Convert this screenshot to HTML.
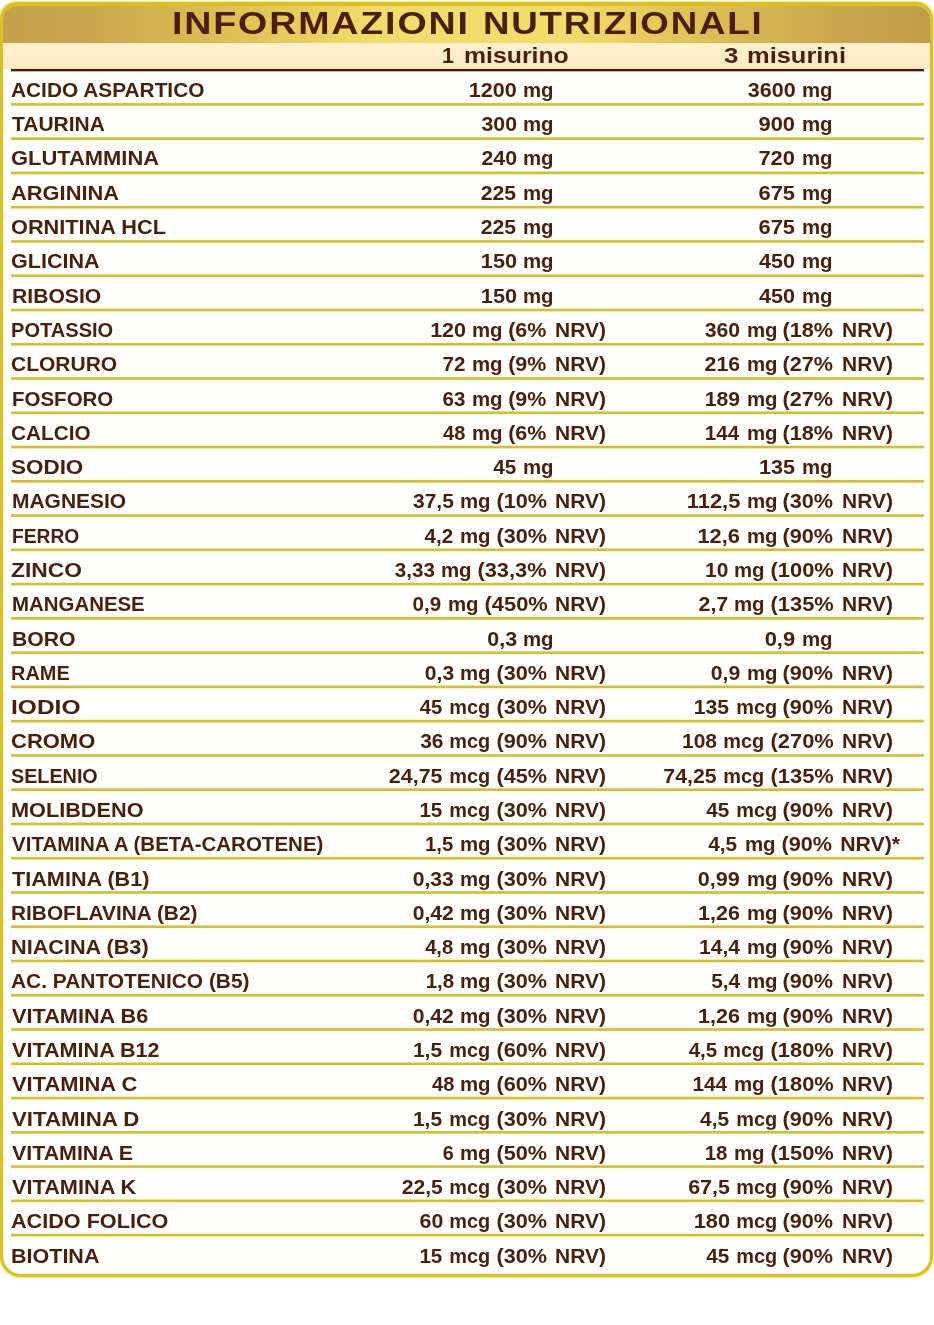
<!DOCTYPE html>
<html lang="it"><head><meta charset="utf-8"><title>Informazioni nutrizionali</title>
<style>
html,body{margin:0;padding:0;background:#fff;}
body{width:934px;height:1325px;position:relative;overflow:hidden;font-family:"Liberation Sans",sans-serif;font-weight:bold;color:#4a1f0c;}
.box{position:absolute;left:0px;top:2px;width:933px;height:1275px;box-sizing:border-box;border:3px solid #d9c02a;border-top-width:4px;box-shadow:0 0 1.5px 0.3px rgba(240,228,110,.9),inset 0 0 1.5px 0.3px rgba(240,228,110,.7);border-radius:17px 17px 21px 21px;background:#fffffe;overflow:hidden;}
.hd{position:absolute;left:0;top:0;width:100%;height:37px;background:linear-gradient(90deg,#c5a14a 0%,#c9a64c 9%,#e2c456 27%,#f2dc6c 40%,#f2dc6c 61%,#e2c456 73%,#caa74d 90%,#c29d47 100%);}
.sh{position:absolute;left:0;top:37px;width:100%;height:26px;background:linear-gradient(180deg,#fef0d0 0%,#fdedc8 45%,#fceac2 100%);}
.t{position:absolute;white-space:nowrap;line-height:1;}
.ttl{font-size:30.5px;}
.h{font-size:21.5px;}
.r{font-size:21px;}
.t span{display:inline-block;}





svg.lines{position:absolute;left:0;top:0;}
</style></head><body>
<div class="box"><div class="hd"></div><div class="sh"></div></div>

<div class="t ttl" style="top:7.70px;left:171.63px"><span style="letter-spacing:1.50px;transform-origin:0 50%;transform:scaleX(1.2322)">INFORMAZIONI</span></div>
<div class="t ttl" style="top:7.70px;left:482.77px"><span style="letter-spacing:1.50px;transform-origin:0 50%;transform:scaleX(1.2029)">NUTRIZIONALI</span></div>
<div class="t h" style="top:46.10px;left:441.88px"><span style="transform-origin:0 50%;transform:scaleX(1.0000)">1</span></div>
<div class="t h" style="top:46.10px;left:464.45px"><span style="transform-origin:0 50%;transform:scaleX(1.1534)">misurino</span></div>
<div class="t h" style="top:46.10px;left:724.45px"><span style="transform-origin:0 50%;transform:scaleX(1.2015)">3</span></div>
<div class="t h" style="top:46.10px;left:746.65px"><span style="transform-origin:0 50%;transform:scaleX(1.1837)">misurini</span></div>
<div class="t r" style="top:78.90px;left:11.10px"><span style="transform-origin:0 50%;transform:scaleX(0.9928)">ACIDO ASPARTICO</span></div>
<div class="t r" style="top:78.90px;right:417.19px"><span style="transform-origin:100% 50%;transform:scaleX(1.0268)">1200</span></div>
<div class="t r" style="top:78.90px;right:380.30px"><span style="transform-origin:100% 50%;transform:scaleX(0.9716)">mg</span></div>
<div class="t r" style="top:78.90px;right:138.64px"><span style="transform-origin:100% 50%;transform:scaleX(1.0247)">3600</span></div>
<div class="t r" style="top:78.90px;right:101.80px"><span style="transform-origin:100% 50%;transform:scaleX(0.9716)">mg</span></div>
<div class="t r" style="top:113.19px;left:11.65px"><span style="transform-origin:0 50%;transform:scaleX(0.9984)">TAURINA</span></div>
<div class="t r" style="top:113.19px;right:417.10px"><span style="transform-origin:100% 50%;transform:scaleX(1.0151)">300</span></div>
<div class="t r" style="top:113.19px;right:380.30px"><span style="transform-origin:100% 50%;transform:scaleX(0.9716)">mg</span></div>
<div class="t r" style="top:113.19px;right:138.60px"><span style="transform-origin:100% 50%;transform:scaleX(1.0422)">900</span></div>
<div class="t r" style="top:113.19px;right:101.80px"><span style="transform-origin:100% 50%;transform:scaleX(0.9716)">mg</span></div>
<div class="t r" style="top:147.48px;left:11.10px"><span style="transform-origin:0 50%;transform:scaleX(1.0435)">GLUTAMMINA</span></div>
<div class="t r" style="top:147.48px;right:417.10px"><span style="transform-origin:100% 50%;transform:scaleX(1.0149)">240</span></div>
<div class="t r" style="top:147.48px;right:380.30px"><span style="transform-origin:100% 50%;transform:scaleX(0.9716)">mg</span></div>
<div class="t r" style="top:147.48px;right:138.60px"><span style="transform-origin:100% 50%;transform:scaleX(1.0463)">720</span></div>
<div class="t r" style="top:147.48px;right:101.80px"><span style="transform-origin:100% 50%;transform:scaleX(0.9716)">mg</span></div>
<div class="t r" style="top:181.77px;left:11.35px"><span style="transform-origin:0 50%;transform:scaleX(1.0414)">ARGININA</span></div>
<div class="t r" style="top:181.77px;right:417.63px"><span style="transform-origin:100% 50%;transform:scaleX(1.0095)">225</span></div>
<div class="t r" style="top:181.77px;right:380.30px"><span style="transform-origin:100% 50%;transform:scaleX(0.9716)">mg</span></div>
<div class="t r" style="top:181.77px;right:138.58px"><span style="transform-origin:100% 50%;transform:scaleX(1.0431)">675</span></div>
<div class="t r" style="top:181.77px;right:101.80px"><span style="transform-origin:100% 50%;transform:scaleX(0.9716)">mg</span></div>
<div class="t r" style="top:216.06px;left:11.10px"><span style="transform-origin:0 50%;transform:scaleX(1.0349)">ORNITINA HCL</span></div>
<div class="t r" style="top:216.06px;right:417.63px"><span style="transform-origin:100% 50%;transform:scaleX(1.0095)">225</span></div>
<div class="t r" style="top:216.06px;right:380.30px"><span style="transform-origin:100% 50%;transform:scaleX(0.9716)">mg</span></div>
<div class="t r" style="top:216.06px;right:138.58px"><span style="transform-origin:100% 50%;transform:scaleX(1.0431)">675</span></div>
<div class="t r" style="top:216.06px;right:101.80px"><span style="transform-origin:100% 50%;transform:scaleX(0.9716)">mg</span></div>
<div class="t r" style="top:250.35px;left:11.10px"><span style="transform-origin:0 50%;transform:scaleX(1.0255)">GLICINA</span></div>
<div class="t r" style="top:250.35px;right:417.10px"><span style="transform-origin:100% 50%;transform:scaleX(1.0323)">150</span></div>
<div class="t r" style="top:250.35px;right:380.30px"><span style="transform-origin:100% 50%;transform:scaleX(0.9716)">mg</span></div>
<div class="t r" style="top:250.35px;right:138.60px"><span style="transform-origin:100% 50%;transform:scaleX(1.0296)">450</span></div>
<div class="t r" style="top:250.35px;right:101.80px"><span style="transform-origin:100% 50%;transform:scaleX(0.9716)">mg</span></div>
<div class="t r" style="top:284.64px;left:11.63px"><span style="transform-origin:0 50%;transform:scaleX(1.0063)">RIBOSIO</span></div>
<div class="t r" style="top:284.64px;right:417.10px"><span style="transform-origin:100% 50%;transform:scaleX(1.0323)">150</span></div>
<div class="t r" style="top:284.64px;right:380.30px"><span style="transform-origin:100% 50%;transform:scaleX(0.9716)">mg</span></div>
<div class="t r" style="top:284.64px;right:138.60px"><span style="transform-origin:100% 50%;transform:scaleX(1.0296)">450</span></div>
<div class="t r" style="top:284.64px;right:101.80px"><span style="transform-origin:100% 50%;transform:scaleX(0.9716)">mg</span></div>
<div class="t r" style="top:318.93px;left:11.34px"><span style="transform-origin:0 50%;transform:scaleX(0.9555)">POTASSIO</span></div>
<div class="t r" style="top:318.93px;right:468.10px"><span style="transform-origin:100% 50%;transform:scaleX(1.0245)">120</span></div>
<div class="t r" style="top:318.93px;right:431.30px"><span style="transform-origin:100% 50%;transform:scaleX(0.9716)">mg</span></div>
<div class="t r" style="top:318.93px;right:387.17px"><span style="transform-origin:100% 50%;transform:scaleX(1.0211)">(6%</span></div>
<div class="t r" style="top:318.93px;right:327.65px"><span style="transform-origin:100% 50%;transform:scaleX(0.9991)">NRV)</span></div>
<div class="t r" style="top:318.93px;right:193.80px"><span style="transform-origin:100% 50%;transform:scaleX(1.0081)">360</span></div>
<div class="t r" style="top:318.93px;right:157.00px"><span style="transform-origin:100% 50%;transform:scaleX(0.9716)">mg</span></div>
<div class="t r" style="top:318.93px;right:100.55px"><span style="transform-origin:100% 50%;transform:scaleX(1.0312)">(18%</span></div>
<div class="t r" style="top:318.93px;right:41.55px"><span style="transform-origin:100% 50%;transform:scaleX(0.9993)">NRV)</span></div>
<div class="t r" style="top:353.22px;left:11.10px"><span style="transform-origin:0 50%;transform:scaleX(1.0003)">CLORURO</span></div>
<div class="t r" style="top:353.22px;right:468.31px"><span style="transform-origin:100% 50%;transform:scaleX(0.9792)">72</span></div>
<div class="t r" style="top:353.22px;right:431.30px"><span style="transform-origin:100% 50%;transform:scaleX(0.9716)">mg</span></div>
<div class="t r" style="top:353.22px;right:387.17px"><span style="transform-origin:100% 50%;transform:scaleX(1.0211)">(9%</span></div>
<div class="t r" style="top:353.22px;right:327.65px"><span style="transform-origin:100% 50%;transform:scaleX(0.9991)">NRV)</span></div>
<div class="t r" style="top:353.22px;right:193.80px"><span style="transform-origin:100% 50%;transform:scaleX(1.0113)">216</span></div>
<div class="t r" style="top:353.22px;right:157.00px"><span style="transform-origin:100% 50%;transform:scaleX(0.9716)">mg</span></div>
<div class="t r" style="top:353.22px;right:100.55px"><span style="transform-origin:100% 50%;transform:scaleX(1.0312)">(27%</span></div>
<div class="t r" style="top:353.22px;right:41.55px"><span style="transform-origin:100% 50%;transform:scaleX(0.9993)">NRV)</span></div>
<div class="t r" style="top:387.51px;left:11.61px"><span style="transform-origin:0 50%;transform:scaleX(0.9757)">FOSFORO</span></div>
<div class="t r" style="top:387.51px;right:468.44px"><span style="transform-origin:100% 50%;transform:scaleX(0.9799)">63</span></div>
<div class="t r" style="top:387.51px;right:431.30px"><span style="transform-origin:100% 50%;transform:scaleX(0.9716)">mg</span></div>
<div class="t r" style="top:387.51px;right:387.17px"><span style="transform-origin:100% 50%;transform:scaleX(1.0211)">(9%</span></div>
<div class="t r" style="top:387.51px;right:327.65px"><span style="transform-origin:100% 50%;transform:scaleX(0.9991)">NRV)</span></div>
<div class="t r" style="top:387.51px;right:193.80px"><span style="transform-origin:100% 50%;transform:scaleX(1.0056)">189</span></div>
<div class="t r" style="top:387.51px;right:157.00px"><span style="transform-origin:100% 50%;transform:scaleX(0.9716)">mg</span></div>
<div class="t r" style="top:387.51px;right:100.55px"><span style="transform-origin:100% 50%;transform:scaleX(1.0312)">(27%</span></div>
<div class="t r" style="top:387.51px;right:41.55px"><span style="transform-origin:100% 50%;transform:scaleX(0.9993)">NRV)</span></div>
<div class="t r" style="top:421.80px;left:11.10px"><span style="transform-origin:0 50%;transform:scaleX(0.9881)">CALCIO</span></div>
<div class="t r" style="top:421.80px;right:468.52px"><span style="transform-origin:100% 50%;transform:scaleX(0.9537)">48</span></div>
<div class="t r" style="top:421.80px;right:431.30px"><span style="transform-origin:100% 50%;transform:scaleX(0.9716)">mg</span></div>
<div class="t r" style="top:421.80px;right:387.17px"><span style="transform-origin:100% 50%;transform:scaleX(1.0211)">(6%</span></div>
<div class="t r" style="top:421.80px;right:327.65px"><span style="transform-origin:100% 50%;transform:scaleX(0.9991)">NRV)</span></div>
<div class="t r" style="top:421.80px;right:194.76px"><span style="transform-origin:100% 50%;transform:scaleX(0.9761)">144</span></div>
<div class="t r" style="top:421.80px;right:157.00px"><span style="transform-origin:100% 50%;transform:scaleX(0.9716)">mg</span></div>
<div class="t r" style="top:421.80px;right:100.55px"><span style="transform-origin:100% 50%;transform:scaleX(1.0312)">(18%</span></div>
<div class="t r" style="top:421.80px;right:41.55px"><span style="transform-origin:100% 50%;transform:scaleX(0.9993)">NRV)</span></div>
<div class="t r" style="top:456.09px;left:11.40px"><span style="transform-origin:0 50%;transform:scaleX(1.0688)">SODIO</span></div>
<div class="t r" style="top:456.09px;right:417.22px"><span style="transform-origin:100% 50%;transform:scaleX(0.9872)">45</span></div>
<div class="t r" style="top:456.09px;right:380.30px"><span style="transform-origin:100% 50%;transform:scaleX(0.9716)">mg</span></div>
<div class="t r" style="top:456.09px;right:138.64px"><span style="transform-origin:100% 50%;transform:scaleX(1.0292)">135</span></div>
<div class="t r" style="top:456.09px;right:101.80px"><span style="transform-origin:100% 50%;transform:scaleX(0.9716)">mg</span></div>
<div class="t r" style="top:490.38px;left:11.64px"><span style="transform-origin:0 50%;transform:scaleX(0.9986)">MAGNESIO</span></div>
<div class="t r" style="top:490.38px;right:480.20px"><span style="transform-origin:100% 50%;transform:scaleX(0.9996)">37,5</span></div>
<div class="t r" style="top:490.38px;right:443.40px"><span style="transform-origin:100% 50%;transform:scaleX(0.9716)">mg</span></div>
<div class="t r" style="top:490.38px;right:386.65px"><span style="transform-origin:100% 50%;transform:scaleX(1.0312)">(10%</span></div>
<div class="t r" style="top:490.38px;right:327.65px"><span style="transform-origin:100% 50%;transform:scaleX(0.9991)">NRV)</span></div>
<div class="t r" style="top:490.38px;right:194.02px"><span style="transform-origin:100% 50%;transform:scaleX(1.0446)">112,5</span></div>
<div class="t r" style="top:490.38px;right:157.00px"><span style="transform-origin:100% 50%;transform:scaleX(0.9716)">mg</span></div>
<div class="t r" style="top:490.38px;right:100.55px"><span style="transform-origin:100% 50%;transform:scaleX(1.0312)">(30%</span></div>
<div class="t r" style="top:490.38px;right:41.55px"><span style="transform-origin:100% 50%;transform:scaleX(0.9993)">NRV)</span></div>
<div class="t r" style="top:524.67px;left:11.58px"><span style="transform-origin:0 50%;transform:scaleX(0.9161)">FERRO</span></div>
<div class="t r" style="top:524.67px;right:480.42px"><span style="transform-origin:100% 50%;transform:scaleX(0.9795)">4,2</span></div>
<div class="t r" style="top:524.67px;right:443.40px"><span style="transform-origin:100% 50%;transform:scaleX(0.9716)">mg</span></div>
<div class="t r" style="top:524.67px;right:386.65px"><span style="transform-origin:100% 50%;transform:scaleX(1.0312)">(30%</span></div>
<div class="t r" style="top:524.67px;right:327.65px"><span style="transform-origin:100% 50%;transform:scaleX(0.9991)">NRV)</span></div>
<div class="t r" style="top:524.67px;right:193.80px"><span style="transform-origin:100% 50%;transform:scaleX(1.0397)">12,6</span></div>
<div class="t r" style="top:524.67px;right:157.00px"><span style="transform-origin:100% 50%;transform:scaleX(0.9716)">mg</span></div>
<div class="t r" style="top:524.67px;right:100.55px"><span style="transform-origin:100% 50%;transform:scaleX(1.0312)">(90%</span></div>
<div class="t r" style="top:524.67px;right:41.55px"><span style="transform-origin:100% 50%;transform:scaleX(0.9993)">NRV)</span></div>
<div class="t r" style="top:558.96px;left:11.40px"><span style="transform-origin:0 50%;transform:scaleX(1.0850)">ZINCO</span></div>
<div class="t r" style="top:558.96px;right:499.00px"><span style="transform-origin:100% 50%;transform:scaleX(0.9804)">3,33</span></div>
<div class="t r" style="top:558.96px;right:462.20px"><span style="transform-origin:100% 50%;transform:scaleX(0.9716)">mg</span></div>
<div class="t r" style="top:558.96px;right:387.15px"><span style="transform-origin:100% 50%;transform:scaleX(1.0393)">(33,3%</span></div>
<div class="t r" style="top:558.96px;right:327.65px"><span style="transform-origin:100% 50%;transform:scaleX(0.9991)">NRV)</span></div>
<div class="t r" style="top:558.96px;right:205.71px"><span style="transform-origin:100% 50%;transform:scaleX(0.9947)">10</span></div>
<div class="t r" style="top:558.96px;right:169.40px"><span style="transform-origin:100% 50%;transform:scaleX(0.9716)">mg</span></div>
<div class="t r" style="top:558.96px;right:100.55px"><span style="transform-origin:100% 50%;transform:scaleX(1.0399)">(100%</span></div>
<div class="t r" style="top:558.96px;right:41.55px"><span style="transform-origin:100% 50%;transform:scaleX(0.9993)">NRV)</span></div>
<div class="t r" style="top:593.25px;left:11.62px"><span style="transform-origin:0 50%;transform:scaleX(0.9724)">MANGANESE</span></div>
<div class="t r" style="top:593.25px;right:492.57px"><span style="transform-origin:100% 50%;transform:scaleX(0.9790)">0,9</span></div>
<div class="t r" style="top:593.25px;right:455.80px"><span style="transform-origin:100% 50%;transform:scaleX(0.9716)">mg</span></div>
<div class="t r" style="top:593.25px;right:386.65px"><span style="transform-origin:100% 50%;transform:scaleX(1.0399)">(450%</span></div>
<div class="t r" style="top:593.25px;right:327.65px"><span style="transform-origin:100% 50%;transform:scaleX(0.9991)">NRV)</span></div>
<div class="t r" style="top:593.25px;right:206.12px"><span style="transform-origin:100% 50%;transform:scaleX(1.0141)">2,7</span></div>
<div class="t r" style="top:593.25px;right:169.40px"><span style="transform-origin:100% 50%;transform:scaleX(0.9716)">mg</span></div>
<div class="t r" style="top:593.25px;right:100.55px"><span style="transform-origin:100% 50%;transform:scaleX(1.0399)">(135%</span></div>
<div class="t r" style="top:593.25px;right:41.55px"><span style="transform-origin:100% 50%;transform:scaleX(0.9993)">NRV)</span></div>
<div class="t r" style="top:627.54px;left:11.58px"><span style="transform-origin:0 50%;transform:scaleX(1.0097)">BORO</span></div>
<div class="t r" style="top:627.54px;right:417.31px"><span style="transform-origin:100% 50%;transform:scaleX(1.0222)">0,3</span></div>
<div class="t r" style="top:627.54px;right:380.30px"><span style="transform-origin:100% 50%;transform:scaleX(0.9716)">mg</span></div>
<div class="t r" style="top:627.54px;right:138.75px"><span style="transform-origin:100% 50%;transform:scaleX(1.0469)">0,9</span></div>
<div class="t r" style="top:627.54px;right:101.80px"><span style="transform-origin:100% 50%;transform:scaleX(0.9716)">mg</span></div>
<div class="t r" style="top:661.83px;left:11.28px"><span style="transform-origin:0 50%;transform:scaleX(0.9488)">RAME</span></div>
<div class="t r" style="top:661.83px;right:480.08px"><span style="transform-origin:100% 50%;transform:scaleX(1.0071)">0,3</span></div>
<div class="t r" style="top:661.83px;right:443.40px"><span style="transform-origin:100% 50%;transform:scaleX(0.9716)">mg</span></div>
<div class="t r" style="top:661.83px;right:386.65px"><span style="transform-origin:100% 50%;transform:scaleX(1.0312)">(30%</span></div>
<div class="t r" style="top:661.83px;right:327.65px"><span style="transform-origin:100% 50%;transform:scaleX(0.9991)">NRV)</span></div>
<div class="t r" style="top:661.83px;right:194.28px"><span style="transform-origin:100% 50%;transform:scaleX(1.0112)">0,9</span></div>
<div class="t r" style="top:661.83px;right:157.00px"><span style="transform-origin:100% 50%;transform:scaleX(0.9716)">mg</span></div>
<div class="t r" style="top:661.83px;right:100.55px"><span style="transform-origin:100% 50%;transform:scaleX(1.0312)">(90%</span></div>
<div class="t r" style="top:661.83px;right:41.55px"><span style="transform-origin:100% 50%;transform:scaleX(0.9993)">NRV)</span></div>
<div class="t r" style="top:696.12px;left:10.65px"><span style="transform-origin:0 50%;transform:scaleX(1.1681)">IODIO</span></div>
<div class="t r" style="top:696.12px;right:491.35px"><span style="transform-origin:100% 50%;transform:scaleX(0.9636)">45</span></div>
<div class="t r" style="top:696.12px;right:443.48px"><span style="transform-origin:100% 50%;transform:scaleX(0.9495)">mcg</span></div>
<div class="t r" style="top:696.12px;right:386.65px"><span style="transform-origin:100% 50%;transform:scaleX(1.0312)">(30%</span></div>
<div class="t r" style="top:696.12px;right:327.65px"><span style="transform-origin:100% 50%;transform:scaleX(0.9991)">NRV)</span></div>
<div class="t r" style="top:696.12px;right:204.86px"><span style="transform-origin:100% 50%;transform:scaleX(1.0098)">135</span></div>
<div class="t r" style="top:696.12px;right:157.08px"><span style="transform-origin:100% 50%;transform:scaleX(0.9495)">mcg</span></div>
<div class="t r" style="top:696.12px;right:100.55px"><span style="transform-origin:100% 50%;transform:scaleX(1.0312)">(90%</span></div>
<div class="t r" style="top:696.12px;right:41.55px"><span style="transform-origin:100% 50%;transform:scaleX(0.9993)">NRV)</span></div>
<div class="t r" style="top:730.41px;left:11.10px"><span style="transform-origin:0 50%;transform:scaleX(1.0468)">CROMO</span></div>
<div class="t r" style="top:730.41px;right:491.08px"><span style="transform-origin:100% 50%;transform:scaleX(0.9941)">36</span></div>
<div class="t r" style="top:730.41px;right:443.48px"><span style="transform-origin:100% 50%;transform:scaleX(0.9495)">mcg</span></div>
<div class="t r" style="top:730.41px;right:386.65px"><span style="transform-origin:100% 50%;transform:scaleX(1.0312)">(90%</span></div>
<div class="t r" style="top:730.41px;right:327.65px"><span style="transform-origin:100% 50%;transform:scaleX(0.9991)">NRV)</span></div>
<div class="t r" style="top:730.41px;right:216.51px"><span style="transform-origin:100% 50%;transform:scaleX(1.0001)">108</span></div>
<div class="t r" style="top:730.41px;right:169.48px"><span style="transform-origin:100% 50%;transform:scaleX(0.9495)">mcg</span></div>
<div class="t r" style="top:730.41px;right:100.55px"><span style="transform-origin:100% 50%;transform:scaleX(1.0399)">(270%</span></div>
<div class="t r" style="top:730.41px;right:41.55px"><span style="transform-origin:100% 50%;transform:scaleX(0.9993)">NRV)</span></div>
<div class="t r" style="top:764.70px;left:11.10px"><span style="transform-origin:0 50%;transform:scaleX(0.9409)">SELENIO</span></div>
<div class="t r" style="top:764.70px;right:491.14px"><span style="transform-origin:100% 50%;transform:scaleX(1.0217)">24,75</span></div>
<div class="t r" style="top:764.70px;right:443.48px"><span style="transform-origin:100% 50%;transform:scaleX(0.9495)">mcg</span></div>
<div class="t r" style="top:764.70px;right:386.65px"><span style="transform-origin:100% 50%;transform:scaleX(1.0312)">(45%</span></div>
<div class="t r" style="top:764.70px;right:327.65px"><span style="transform-origin:100% 50%;transform:scaleX(0.9991)">NRV)</span></div>
<div class="t r" style="top:764.70px;right:217.24px"><span style="transform-origin:100% 50%;transform:scaleX(1.0125)">74,25</span></div>
<div class="t r" style="top:764.70px;right:169.48px"><span style="transform-origin:100% 50%;transform:scaleX(0.9495)">mcg</span></div>
<div class="t r" style="top:764.70px;right:100.55px"><span style="transform-origin:100% 50%;transform:scaleX(1.0399)">(135%</span></div>
<div class="t r" style="top:764.70px;right:41.55px"><span style="transform-origin:100% 50%;transform:scaleX(0.9993)">NRV)</span></div>
<div class="t r" style="top:798.99px;left:11.25px"><span style="transform-origin:0 50%;transform:scaleX(1.0328)">MOLIBDENO</span></div>
<div class="t r" style="top:798.99px;right:491.43px"><span style="transform-origin:100% 50%;transform:scaleX(0.9833)">15</span></div>
<div class="t r" style="top:798.99px;right:443.48px"><span style="transform-origin:100% 50%;transform:scaleX(0.9495)">mcg</span></div>
<div class="t r" style="top:798.99px;right:386.65px"><span style="transform-origin:100% 50%;transform:scaleX(1.0312)">(30%</span></div>
<div class="t r" style="top:798.99px;right:327.65px"><span style="transform-origin:100% 50%;transform:scaleX(0.9991)">NRV)</span></div>
<div class="t r" style="top:798.99px;right:204.95px"><span style="transform-origin:100% 50%;transform:scaleX(0.9885)">45</span></div>
<div class="t r" style="top:798.99px;right:157.08px"><span style="transform-origin:100% 50%;transform:scaleX(0.9495)">mcg</span></div>
<div class="t r" style="top:798.99px;right:100.55px"><span style="transform-origin:100% 50%;transform:scaleX(1.0312)">(90%</span></div>
<div class="t r" style="top:798.99px;right:41.55px"><span style="transform-origin:100% 50%;transform:scaleX(0.9993)">NRV)</span></div>
<div class="t r" style="top:833.28px;left:11.89px"><span style="transform-origin:0 50%;transform:scaleX(0.9766)">VITAMINA A (BETA-CAROTENE)</span></div>
<div class="t r" style="top:833.28px;right:480.59px"><span style="transform-origin:100% 50%;transform:scaleX(0.9685)">1,5</span></div>
<div class="t r" style="top:833.28px;right:443.40px"><span style="transform-origin:100% 50%;transform:scaleX(0.9716)">mg</span></div>
<div class="t r" style="top:833.28px;right:386.65px"><span style="transform-origin:100% 50%;transform:scaleX(1.0312)">(30%</span></div>
<div class="t r" style="top:833.28px;right:327.65px"><span style="transform-origin:100% 50%;transform:scaleX(0.9991)">NRV)</span></div>
<div class="t r" style="top:833.28px;right:196.43px"><span style="transform-origin:100% 50%;transform:scaleX(0.9917)">4,5</span></div>
<div class="t r" style="top:833.28px;right:158.90px"><span style="transform-origin:100% 50%;transform:scaleX(0.9716)">mg</span></div>
<div class="t r" style="top:833.28px;right:102.05px"><span style="transform-origin:100% 50%;transform:scaleX(1.0312)">(90%</span></div>
<div class="t r" style="top:833.28px;right:34.13px"><span style="transform-origin:100% 50%;transform:scaleX(1.0133)">NRV)*</span></div>
<div class="t r" style="top:867.57px;left:11.54px"><span style="transform-origin:0 50%;transform:scaleX(1.0309)">TIAMINA (B1)</span></div>
<div class="t r" style="top:867.57px;right:480.20px"><span style="transform-origin:100% 50%;transform:scaleX(1.0069)">0,33</span></div>
<div class="t r" style="top:867.57px;right:443.40px"><span style="transform-origin:100% 50%;transform:scaleX(0.9716)">mg</span></div>
<div class="t r" style="top:867.57px;right:386.65px"><span style="transform-origin:100% 50%;transform:scaleX(1.0312)">(30%</span></div>
<div class="t r" style="top:867.57px;right:327.65px"><span style="transform-origin:100% 50%;transform:scaleX(0.9991)">NRV)</span></div>
<div class="t r" style="top:867.57px;right:193.80px"><span style="transform-origin:100% 50%;transform:scaleX(1.0296)">0,99</span></div>
<div class="t r" style="top:867.57px;right:157.00px"><span style="transform-origin:100% 50%;transform:scaleX(0.9716)">mg</span></div>
<div class="t r" style="top:867.57px;right:100.55px"><span style="transform-origin:100% 50%;transform:scaleX(1.0312)">(90%</span></div>
<div class="t r" style="top:867.57px;right:41.55px"><span style="transform-origin:100% 50%;transform:scaleX(0.9993)">NRV)</span></div>
<div class="t r" style="top:901.86px;left:11.30px"><span style="transform-origin:0 50%;transform:scaleX(0.9925)">RIBOFLAVINA (B2)</span></div>
<div class="t r" style="top:901.86px;right:480.20px"><span style="transform-origin:100% 50%;transform:scaleX(1.0069)">0,42</span></div>
<div class="t r" style="top:901.86px;right:443.40px"><span style="transform-origin:100% 50%;transform:scaleX(0.9716)">mg</span></div>
<div class="t r" style="top:901.86px;right:386.65px"><span style="transform-origin:100% 50%;transform:scaleX(1.0312)">(30%</span></div>
<div class="t r" style="top:901.86px;right:327.65px"><span style="transform-origin:100% 50%;transform:scaleX(0.9991)">NRV)</span></div>
<div class="t r" style="top:901.86px;right:193.80px"><span style="transform-origin:100% 50%;transform:scaleX(1.0229)">1,26</span></div>
<div class="t r" style="top:901.86px;right:157.00px"><span style="transform-origin:100% 50%;transform:scaleX(0.9716)">mg</span></div>
<div class="t r" style="top:901.86px;right:100.55px"><span style="transform-origin:100% 50%;transform:scaleX(1.0312)">(90%</span></div>
<div class="t r" style="top:901.86px;right:41.55px"><span style="transform-origin:100% 50%;transform:scaleX(0.9993)">NRV)</span></div>
<div class="t r" style="top:936.15px;left:11.25px"><span style="transform-origin:0 50%;transform:scaleX(1.0316)">NIACINA (B3)</span></div>
<div class="t r" style="top:936.15px;right:480.32px"><span style="transform-origin:100% 50%;transform:scaleX(0.9613)">4,8</span></div>
<div class="t r" style="top:936.15px;right:443.40px"><span style="transform-origin:100% 50%;transform:scaleX(0.9716)">mg</span></div>
<div class="t r" style="top:936.15px;right:386.65px"><span style="transform-origin:100% 50%;transform:scaleX(1.0312)">(30%</span></div>
<div class="t r" style="top:936.15px;right:327.65px"><span style="transform-origin:100% 50%;transform:scaleX(0.9991)">NRV)</span></div>
<div class="t r" style="top:936.15px;right:194.56px"><span style="transform-origin:100% 50%;transform:scaleX(0.9976)">14,4</span></div>
<div class="t r" style="top:936.15px;right:157.00px"><span style="transform-origin:100% 50%;transform:scaleX(0.9716)">mg</span></div>
<div class="t r" style="top:936.15px;right:100.55px"><span style="transform-origin:100% 50%;transform:scaleX(1.0312)">(90%</span></div>
<div class="t r" style="top:936.15px;right:41.55px"><span style="transform-origin:100% 50%;transform:scaleX(0.9993)">NRV)</span></div>
<div class="t r" style="top:970.44px;left:11.10px"><span style="transform-origin:0 50%;transform:scaleX(0.9958)">AC. PANTOTENICO (B5)</span></div>
<div class="t r" style="top:970.44px;right:480.30px"><span style="transform-origin:100% 50%;transform:scaleX(0.9773)">1,8</span></div>
<div class="t r" style="top:970.44px;right:443.40px"><span style="transform-origin:100% 50%;transform:scaleX(0.9716)">mg</span></div>
<div class="t r" style="top:970.44px;right:386.65px"><span style="transform-origin:100% 50%;transform:scaleX(1.0312)">(30%</span></div>
<div class="t r" style="top:970.44px;right:327.65px"><span style="transform-origin:100% 50%;transform:scaleX(0.9991)">NRV)</span></div>
<div class="t r" style="top:970.44px;right:194.30px"><span style="transform-origin:100% 50%;transform:scaleX(0.9951)">5,4</span></div>
<div class="t r" style="top:970.44px;right:157.00px"><span style="transform-origin:100% 50%;transform:scaleX(0.9716)">mg</span></div>
<div class="t r" style="top:970.44px;right:100.55px"><span style="transform-origin:100% 50%;transform:scaleX(1.0312)">(90%</span></div>
<div class="t r" style="top:970.44px;right:41.55px"><span style="transform-origin:100% 50%;transform:scaleX(0.9993)">NRV)</span></div>
<div class="t r" style="top:1004.73px;left:11.63px"><span style="transform-origin:0 50%;transform:scaleX(1.0332)">VITAMINA B6</span></div>
<div class="t r" style="top:1004.73px;right:480.20px"><span style="transform-origin:100% 50%;transform:scaleX(1.0069)">0,42</span></div>
<div class="t r" style="top:1004.73px;right:443.40px"><span style="transform-origin:100% 50%;transform:scaleX(0.9716)">mg</span></div>
<div class="t r" style="top:1004.73px;right:386.65px"><span style="transform-origin:100% 50%;transform:scaleX(1.0312)">(30%</span></div>
<div class="t r" style="top:1004.73px;right:327.65px"><span style="transform-origin:100% 50%;transform:scaleX(0.9991)">NRV)</span></div>
<div class="t r" style="top:1004.73px;right:193.80px"><span style="transform-origin:100% 50%;transform:scaleX(1.0229)">1,26</span></div>
<div class="t r" style="top:1004.73px;right:157.00px"><span style="transform-origin:100% 50%;transform:scaleX(0.9716)">mg</span></div>
<div class="t r" style="top:1004.73px;right:100.55px"><span style="transform-origin:100% 50%;transform:scaleX(1.0312)">(90%</span></div>
<div class="t r" style="top:1004.73px;right:41.55px"><span style="transform-origin:100% 50%;transform:scaleX(0.9993)">NRV)</span></div>
<div class="t r" style="top:1039.02px;left:11.67px"><span style="transform-origin:0 50%;transform:scaleX(1.0278)">VITAMINA B12</span></div>
<div class="t r" style="top:1039.02px;right:491.43px"><span style="transform-origin:100% 50%;transform:scaleX(1.0031)">1,5</span></div>
<div class="t r" style="top:1039.02px;right:443.48px"><span style="transform-origin:100% 50%;transform:scaleX(0.9495)">mcg</span></div>
<div class="t r" style="top:1039.02px;right:386.65px"><span style="transform-origin:100% 50%;transform:scaleX(1.0312)">(60%</span></div>
<div class="t r" style="top:1039.02px;right:327.65px"><span style="transform-origin:100% 50%;transform:scaleX(0.9991)">NRV)</span></div>
<div class="t r" style="top:1039.02px;right:217.10px"><span style="transform-origin:100% 50%;transform:scaleX(0.9783)">4,5</span></div>
<div class="t r" style="top:1039.02px;right:169.48px"><span style="transform-origin:100% 50%;transform:scaleX(0.9495)">mcg</span></div>
<div class="t r" style="top:1039.02px;right:100.55px"><span style="transform-origin:100% 50%;transform:scaleX(1.0399)">(180%</span></div>
<div class="t r" style="top:1039.02px;right:41.55px"><span style="transform-origin:100% 50%;transform:scaleX(0.9993)">NRV)</span></div>
<div class="t r" style="top:1073.31px;left:11.63px"><span style="transform-origin:0 50%;transform:scaleX(1.0425)">VITAMINA C</span></div>
<div class="t r" style="top:1073.31px;right:480.12px"><span style="transform-origin:100% 50%;transform:scaleX(0.9537)">48</span></div>
<div class="t r" style="top:1073.31px;right:443.40px"><span style="transform-origin:100% 50%;transform:scaleX(0.9716)">mg</span></div>
<div class="t r" style="top:1073.31px;right:386.65px"><span style="transform-origin:100% 50%;transform:scaleX(1.0312)">(60%</span></div>
<div class="t r" style="top:1073.31px;right:327.65px"><span style="transform-origin:100% 50%;transform:scaleX(0.9991)">NRV)</span></div>
<div class="t r" style="top:1073.31px;right:207.17px"><span style="transform-origin:100% 50%;transform:scaleX(0.9884)">144</span></div>
<div class="t r" style="top:1073.31px;right:169.40px"><span style="transform-origin:100% 50%;transform:scaleX(0.9716)">mg</span></div>
<div class="t r" style="top:1073.31px;right:100.55px"><span style="transform-origin:100% 50%;transform:scaleX(1.0399)">(180%</span></div>
<div class="t r" style="top:1073.31px;right:41.55px"><span style="transform-origin:100% 50%;transform:scaleX(0.9993)">NRV)</span></div>
<div class="t r" style="top:1107.60px;left:11.63px"><span style="transform-origin:0 50%;transform:scaleX(1.0601)">VITAMINA D</span></div>
<div class="t r" style="top:1107.60px;right:491.43px"><span style="transform-origin:100% 50%;transform:scaleX(1.0031)">1,5</span></div>
<div class="t r" style="top:1107.60px;right:443.48px"><span style="transform-origin:100% 50%;transform:scaleX(0.9495)">mcg</span></div>
<div class="t r" style="top:1107.60px;right:386.65px"><span style="transform-origin:100% 50%;transform:scaleX(1.0312)">(30%</span></div>
<div class="t r" style="top:1107.60px;right:327.65px"><span style="transform-origin:100% 50%;transform:scaleX(0.9991)">NRV)</span></div>
<div class="t r" style="top:1107.60px;right:204.55px"><span style="transform-origin:100% 50%;transform:scaleX(0.9982)">4,5</span></div>
<div class="t r" style="top:1107.60px;right:157.08px"><span style="transform-origin:100% 50%;transform:scaleX(0.9495)">mcg</span></div>
<div class="t r" style="top:1107.60px;right:100.55px"><span style="transform-origin:100% 50%;transform:scaleX(1.0312)">(90%</span></div>
<div class="t r" style="top:1107.60px;right:41.55px"><span style="transform-origin:100% 50%;transform:scaleX(0.9993)">NRV)</span></div>
<div class="t r" style="top:1141.89px;left:11.68px"><span style="transform-origin:0 50%;transform:scaleX(1.0179)">VITAMINA E</span></div>
<div class="t r" style="top:1141.89px;right:480.70px"><span style="transform-origin:100% 50%;transform:scaleX(0.9400)">6</span></div>
<div class="t r" style="top:1141.89px;right:443.40px"><span style="transform-origin:100% 50%;transform:scaleX(0.9716)">mg</span></div>
<div class="t r" style="top:1141.89px;right:386.65px"><span style="transform-origin:100% 50%;transform:scaleX(1.0312)">(50%</span></div>
<div class="t r" style="top:1141.89px;right:327.65px"><span style="transform-origin:100% 50%;transform:scaleX(0.9991)">NRV)</span></div>
<div class="t r" style="top:1141.89px;right:206.54px"><span style="transform-origin:100% 50%;transform:scaleX(0.9729)">18</span></div>
<div class="t r" style="top:1141.89px;right:169.40px"><span style="transform-origin:100% 50%;transform:scaleX(0.9716)">mg</span></div>
<div class="t r" style="top:1141.89px;right:100.55px"><span style="transform-origin:100% 50%;transform:scaleX(1.0399)">(150%</span></div>
<div class="t r" style="top:1141.89px;right:41.55px"><span style="transform-origin:100% 50%;transform:scaleX(0.9993)">NRV)</span></div>
<div class="t r" style="top:1176.18px;left:11.63px"><span style="transform-origin:0 50%;transform:scaleX(1.0340)">VITAMINA K</span></div>
<div class="t r" style="top:1176.18px;right:490.80px"><span style="transform-origin:100% 50%;transform:scaleX(1.0068)">22,5</span></div>
<div class="t r" style="top:1176.18px;right:443.48px"><span style="transform-origin:100% 50%;transform:scaleX(0.9495)">mcg</span></div>
<div class="t r" style="top:1176.18px;right:386.65px"><span style="transform-origin:100% 50%;transform:scaleX(1.0312)">(30%</span></div>
<div class="t r" style="top:1176.18px;right:327.65px"><span style="transform-origin:100% 50%;transform:scaleX(0.9991)">NRV)</span></div>
<div class="t r" style="top:1176.18px;right:204.35px"><span style="transform-origin:100% 50%;transform:scaleX(1.0202)">67,5</span></div>
<div class="t r" style="top:1176.18px;right:157.08px"><span style="transform-origin:100% 50%;transform:scaleX(0.9495)">mcg</span></div>
<div class="t r" style="top:1176.18px;right:100.55px"><span style="transform-origin:100% 50%;transform:scaleX(1.0312)">(90%</span></div>
<div class="t r" style="top:1176.18px;right:41.55px"><span style="transform-origin:100% 50%;transform:scaleX(0.9993)">NRV)</span></div>
<div class="t r" style="top:1210.47px;left:11.40px"><span style="transform-origin:0 50%;transform:scaleX(1.0294)">ACIDO FOLICO</span></div>
<div class="t r" style="top:1210.47px;right:491.04px"><span style="transform-origin:100% 50%;transform:scaleX(1.0167)">60</span></div>
<div class="t r" style="top:1210.47px;right:443.48px"><span style="transform-origin:100% 50%;transform:scaleX(0.9495)">mcg</span></div>
<div class="t r" style="top:1210.47px;right:386.65px"><span style="transform-origin:100% 50%;transform:scaleX(1.0312)">(30%</span></div>
<div class="t r" style="top:1210.47px;right:327.65px"><span style="transform-origin:100% 50%;transform:scaleX(0.9991)">NRV)</span></div>
<div class="t r" style="top:1210.47px;right:204.40px"><span style="transform-origin:100% 50%;transform:scaleX(1.0359)">180</span></div>
<div class="t r" style="top:1210.47px;right:157.08px"><span style="transform-origin:100% 50%;transform:scaleX(0.9495)">mcg</span></div>
<div class="t r" style="top:1210.47px;right:100.55px"><span style="transform-origin:100% 50%;transform:scaleX(1.0312)">(90%</span></div>
<div class="t r" style="top:1210.47px;right:41.55px"><span style="transform-origin:100% 50%;transform:scaleX(0.9993)">NRV)</span></div>
<div class="t r" style="top:1244.76px;left:11.41px"><span style="transform-origin:0 50%;transform:scaleX(1.0243)">BIOTINA</span></div>
<div class="t r" style="top:1244.76px;right:491.43px"><span style="transform-origin:100% 50%;transform:scaleX(0.9833)">15</span></div>
<div class="t r" style="top:1244.76px;right:443.48px"><span style="transform-origin:100% 50%;transform:scaleX(0.9495)">mcg</span></div>
<div class="t r" style="top:1244.76px;right:386.65px"><span style="transform-origin:100% 50%;transform:scaleX(1.0312)">(30%</span></div>
<div class="t r" style="top:1244.76px;right:327.65px"><span style="transform-origin:100% 50%;transform:scaleX(0.9991)">NRV)</span></div>
<div class="t r" style="top:1244.76px;right:204.95px"><span style="transform-origin:100% 50%;transform:scaleX(0.9885)">45</span></div>
<div class="t r" style="top:1244.76px;right:157.08px"><span style="transform-origin:100% 50%;transform:scaleX(0.9495)">mcg</span></div>
<div class="t r" style="top:1244.76px;right:100.55px"><span style="transform-origin:100% 50%;transform:scaleX(1.0312)">(90%</span></div>
<div class="t r" style="top:1244.76px;right:41.55px"><span style="transform-origin:100% 50%;transform:scaleX(0.9993)">NRV)</span></div>
<svg class="lines" width="934" height="1325" viewBox="0 0 934 1325"><rect x="11" y="68.94" width="913" height="2.4" fill="#4a1a08"/><rect x="11" y="101.30" width="913" height="6.2" fill="#ffff9a" fill-opacity=".28"/><rect x="11" y="103.10" width="913" height="2.6" fill="#cfbc4c"/><rect x="11" y="135.57" width="913" height="6.2" fill="#ffff9a" fill-opacity=".28"/><rect x="11" y="137.37" width="913" height="2.6" fill="#cfbc4c"/><rect x="11" y="169.83" width="913" height="6.2" fill="#ffff9a" fill-opacity=".28"/><rect x="11" y="171.63" width="913" height="2.6" fill="#cfbc4c"/><rect x="11" y="204.10" width="913" height="6.2" fill="#ffff9a" fill-opacity=".28"/><rect x="11" y="205.90" width="913" height="2.6" fill="#cfbc4c"/><rect x="11" y="238.36" width="913" height="6.2" fill="#ffff9a" fill-opacity=".28"/><rect x="11" y="240.16" width="913" height="2.6" fill="#cfbc4c"/><rect x="11" y="272.62" width="913" height="6.2" fill="#ffff9a" fill-opacity=".28"/><rect x="11" y="274.42" width="913" height="2.6" fill="#cfbc4c"/><rect x="11" y="306.89" width="913" height="6.2" fill="#ffff9a" fill-opacity=".28"/><rect x="11" y="308.69" width="913" height="2.6" fill="#cfbc4c"/><rect x="11" y="341.15" width="913" height="6.2" fill="#ffff9a" fill-opacity=".28"/><rect x="11" y="342.95" width="913" height="2.6" fill="#cfbc4c"/><rect x="11" y="375.42" width="913" height="6.2" fill="#ffff9a" fill-opacity=".28"/><rect x="11" y="377.22" width="913" height="2.6" fill="#cfbc4c"/><rect x="11" y="409.68" width="913" height="6.2" fill="#ffff9a" fill-opacity=".28"/><rect x="11" y="411.48" width="913" height="2.6" fill="#cfbc4c"/><rect x="11" y="443.94" width="913" height="6.2" fill="#ffff9a" fill-opacity=".28"/><rect x="11" y="445.74" width="913" height="2.6" fill="#cfbc4c"/><rect x="11" y="478.21" width="913" height="6.2" fill="#ffff9a" fill-opacity=".28"/><rect x="11" y="480.01" width="913" height="2.6" fill="#cfbc4c"/><rect x="11" y="512.47" width="913" height="6.2" fill="#ffff9a" fill-opacity=".28"/><rect x="11" y="514.27" width="913" height="2.6" fill="#cfbc4c"/><rect x="11" y="546.74" width="913" height="6.2" fill="#ffff9a" fill-opacity=".28"/><rect x="11" y="548.54" width="913" height="2.6" fill="#cfbc4c"/><rect x="11" y="581.00" width="913" height="6.2" fill="#ffff9a" fill-opacity=".28"/><rect x="11" y="582.80" width="913" height="2.6" fill="#cfbc4c"/><rect x="11" y="615.26" width="913" height="6.2" fill="#ffff9a" fill-opacity=".28"/><rect x="11" y="617.06" width="913" height="2.6" fill="#cfbc4c"/><rect x="11" y="649.53" width="913" height="6.2" fill="#ffff9a" fill-opacity=".28"/><rect x="11" y="651.33" width="913" height="2.6" fill="#cfbc4c"/><rect x="11" y="683.79" width="913" height="6.2" fill="#ffff9a" fill-opacity=".28"/><rect x="11" y="685.59" width="913" height="2.6" fill="#cfbc4c"/><rect x="11" y="718.06" width="913" height="6.2" fill="#ffff9a" fill-opacity=".28"/><rect x="11" y="719.86" width="913" height="2.6" fill="#cfbc4c"/><rect x="11" y="752.32" width="913" height="6.2" fill="#ffff9a" fill-opacity=".28"/><rect x="11" y="754.12" width="913" height="2.6" fill="#cfbc4c"/><rect x="11" y="786.58" width="913" height="6.2" fill="#ffff9a" fill-opacity=".28"/><rect x="11" y="788.38" width="913" height="2.6" fill="#cfbc4c"/><rect x="11" y="820.85" width="913" height="6.2" fill="#ffff9a" fill-opacity=".28"/><rect x="11" y="822.65" width="913" height="2.6" fill="#cfbc4c"/><rect x="11" y="855.11" width="913" height="6.2" fill="#ffff9a" fill-opacity=".28"/><rect x="11" y="856.91" width="913" height="2.6" fill="#cfbc4c"/><rect x="11" y="889.38" width="913" height="6.2" fill="#ffff9a" fill-opacity=".28"/><rect x="11" y="891.18" width="913" height="2.6" fill="#cfbc4c"/><rect x="11" y="923.64" width="913" height="6.2" fill="#ffff9a" fill-opacity=".28"/><rect x="11" y="925.44" width="913" height="2.6" fill="#cfbc4c"/><rect x="11" y="957.90" width="913" height="6.2" fill="#ffff9a" fill-opacity=".28"/><rect x="11" y="959.70" width="913" height="2.6" fill="#cfbc4c"/><rect x="11" y="992.17" width="913" height="6.2" fill="#ffff9a" fill-opacity=".28"/><rect x="11" y="993.97" width="913" height="2.6" fill="#cfbc4c"/><rect x="11" y="1026.43" width="913" height="6.2" fill="#ffff9a" fill-opacity=".28"/><rect x="11" y="1028.23" width="913" height="2.6" fill="#cfbc4c"/><rect x="11" y="1060.70" width="913" height="6.2" fill="#ffff9a" fill-opacity=".28"/><rect x="11" y="1062.50" width="913" height="2.6" fill="#cfbc4c"/><rect x="11" y="1094.96" width="913" height="6.2" fill="#ffff9a" fill-opacity=".28"/><rect x="11" y="1096.76" width="913" height="2.6" fill="#cfbc4c"/><rect x="11" y="1129.22" width="913" height="6.2" fill="#ffff9a" fill-opacity=".28"/><rect x="11" y="1131.02" width="913" height="2.6" fill="#cfbc4c"/><rect x="11" y="1163.49" width="913" height="6.2" fill="#ffff9a" fill-opacity=".28"/><rect x="11" y="1165.29" width="913" height="2.6" fill="#cfbc4c"/><rect x="11" y="1197.75" width="913" height="6.2" fill="#ffff9a" fill-opacity=".28"/><rect x="11" y="1199.55" width="913" height="2.6" fill="#cfbc4c"/><rect x="11" y="1232.02" width="913" height="6.2" fill="#ffff9a" fill-opacity=".28"/><rect x="11" y="1233.82" width="913" height="2.6" fill="#cfbc4c"/></svg>
</body></html>
